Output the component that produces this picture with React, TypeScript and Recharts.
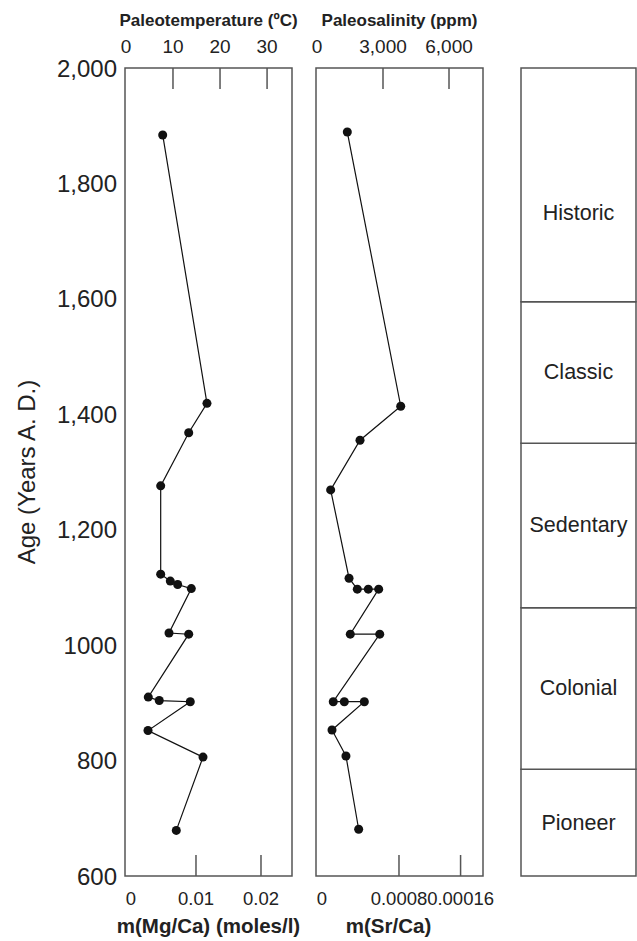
import React from 'react';
import { ScatterChart, Scatter, XAxis, YAxis, ReferenceArea } from 'recharts';

// age axis (years A.D.)
const ageTicks = [600, 800, 1000, 1200, 1400, 1600, 1800, 2000];
const ageTickLabels = ['600', '800', '1000', '1,200', '1,400', '1,600', '1,800', '2,000'];

// Mg/Ca series
const mgAge = [1884, 1419, 1368, 1276, 1123, 1111, 1105, 1098, 1021, 1019, 910, 904, 902, 852, 806, 679];
const mgCa = [0.00488, 0.01169, 0.00888, 0.00457, 0.00457, 0.00605, 0.00718, 0.00928, 0.00585, 0.00888, 0.00266, 0.00435, 0.00912, 0.00262, 0.01108, 0.00697];

// Sr/Ca series
const srAge = [1889, 1414, 1355, 1269, 1116, 1097, 1097, 1097, 1019, 1019, 902, 902, 902, 853, 808, 681];
const srCa = [0.000263, 0.000818, 0.000395, 0.00009, 0.000281, 0.000367, 0.000481, 0.000589, 0.000294, 0.0006, 0.000117, 0.000232, 0.00044, 0.000104, 0.000249, 0.000381];

// axis ticks
const tempTicks = [0, 10, 20, 30];
const tempTickLabels = ['0', '10', '20', '30'];
const salinityTicks = [0, 3000, 6000];
const salinityTickLabels = ['0', '3,000', '6,000'];
const mgTicks = [0, 0.01, 0.02];
const mgTickLabels = ['0', '0.01', '0.02'];
const srTicks = [0, 0.0008, 0.00144];
const srTickLabels = ['0', '0.0008', '0.00016'];

// cultural periods
const periodNames = ['Pioneer', 'Colonial', 'Sedentary', 'Classic', 'Historic'];
const periodStart = [600, 785, 1065, 1350, 1595];
const periodEnd = [785, 1065, 1350, 1595, 2000];

const FONT = '"Liberation Sans", Arial, Helvetica, sans-serif';
const TEXT = '#222';
const FRAME = '#555';
const H = 941;
const PLOT_TOP = 68;
const PLOT_BOTTOM = 876;
const TICK_LEN = 21;

const ageDomain: [number, number] = [600, 2000];
const tempDomain: [number, number] = [-0.2, 35.3];
const salinityDomain: [number, number] = [-45, 7545];
const mgDomain: [number, number] = [-0.00092, 0.02477];
const srDomain: [number, number] = [-0.0000623, 0.001673];

const mgData = mgAge.map((age, i) => ({ age, x: mgCa[i] }));
const srData = srAge.map((age, i) => ({ age, x: srCa[i] }));

const makeTopTick = (ticks: number[], labels: string[]) => (p: any) => {
  const v = p.payload.value;
  const label = labels[ticks.indexOf(v)];
  return (
    <g>
      <text x={p.x} y={PLOT_TOP - 15} textAnchor="middle" fontSize={19} fill={TEXT} fontFamily={FONT}>
        {label}
      </text>
      {v !== 0 && <line x1={p.x} x2={p.x} y1={PLOT_TOP} y2={PLOT_TOP + TICK_LEN} stroke={FRAME} strokeWidth={1.5} />}
    </g>
  );
};

const makeBottomTick = (ticks: number[], labels: string[]) => (p: any) => {
  const v = p.payload.value;
  const label = labels[ticks.indexOf(v)];
  return (
    <g>
      <text x={p.x} y={905} textAnchor="middle" fontSize={18.5} fill={TEXT} fontFamily={FONT}>
        {label}
      </text>
      {v !== 0 && <line x1={p.x} x2={p.x} y1={PLOT_BOTTOM} y2={PLOT_BOTTOM - TICK_LEN} stroke={FRAME} strokeWidth={1.5} />}
    </g>
  );
};

const topTitle = (text: string) => (p: any) => {
  const vb = p.viewBox;
  return (
    <text x={vb.x + vb.width / 2} y={26} textAnchor="middle" fontSize={17} fontWeight="bold" fill={TEXT} fontFamily={FONT}>
      {text}
    </text>
  );
};

const bottomTitle = (text: string, dx: number) => (p: any) => {
  const vb = p.viewBox;
  return (
    <text x={vb.x + vb.width / 2 + dx} y={933} textAnchor="middle" fontSize={20.5} fontWeight="bold" fill={TEXT} fontFamily={FONT}>
      {text}
    </text>
  );
};

const ageTitle = (p: any) => {
  const vb = p.viewBox;
  const cy = vb.y + vb.height / 2;
  return (
    <text x={26} y={cy} transform={`rotate(-90 26 ${cy})`} textAnchor="middle" dominantBaseline="central" fontSize={24} fill={TEXT} fontFamily={FONT}>
      Age (Years A. D.)
    </text>
  );
};

interface PanelProps {
  left: number;
  width: number;
  data: { age: number; x: number }[];
  topDomain: [number, number];
  topTicks: number[];
  topLabels: string[];
  topName: string;
  bottomDomain: [number, number];
  bottomTicks: number[];
  bottomLabels: string[];
  bottomName: string;
  bottomNameDx: number;
  withAgeAxis: boolean;
  margin: { left: number; right: number };
}

const Panel: React.FC<PanelProps> = (props) => (
  <ScatterChart
    width={props.width}
    height={H}
    margin={{ top: 0, right: props.margin.right, bottom: 0, left: props.margin.left }}
    style={{ position: 'absolute', left: props.left, top: 0 }}
  >
    <XAxis
      xAxisId="top"
      orientation="top"
      type="number"
      dataKey="x"
      height={PLOT_TOP}
      domain={props.topDomain}
      ticks={props.topTicks}
      allowDataOverflow
      axisLine={false}
      tickLine={false}
      tickSize={0}
      tick={makeTopTick(props.topTicks, props.topLabels)}
      label={topTitle(props.topName)}
    />
    <XAxis
      xAxisId="bottom"
      orientation="bottom"
      type="number"
      dataKey="x"
      height={H - PLOT_BOTTOM}
      domain={props.bottomDomain}
      ticks={props.bottomTicks}
      allowDataOverflow
      axisLine={false}
      tickLine={false}
      tickSize={0}
      tick={makeBottomTick(props.bottomTicks, props.bottomLabels)}
      label={bottomTitle(props.bottomName, props.bottomNameDx)}
    />
    <YAxis
      yAxisId="age"
      type="number"
      dataKey="age"
      domain={ageDomain}
      ticks={ageTicks}
      allowDataOverflow
      hide={!props.withAgeAxis}
      width={props.withAgeAxis ? 125 : 0}
      axisLine={false}
      tickLine={false}
      tickSize={0}
      tickMargin={8}
      tick={{ fontSize: 24, fill: TEXT, fontFamily: FONT }}
      tickFormatter={(v: number) => ageTickLabels[ageTicks.indexOf(v)]}
      label={props.withAgeAxis ? ageTitle : undefined}
    />
    <ReferenceArea
      xAxisId="bottom"
      yAxisId="age"
      x1={props.bottomDomain[0]}
      x2={props.bottomDomain[1]}
      y1={ageDomain[0]}
      y2={ageDomain[1]}
      fill="none"
      stroke={FRAME}
      strokeWidth={1.5}
    />
    <Scatter
      xAxisId="bottom"
      yAxisId="age"
      data={props.data}
      fill="#111"
      line={{ stroke: '#111', strokeWidth: 1.2 }}
      lineType="joint"
      isAnimationActive={false}
    />
  </ScatterChart>
);

const periodLabelShift = [0, 0, 0, 0, 28];

const PeriodColumn: React.FC = () => (
  <ScatterChart
    width={124}
    height={H}
    margin={{ top: PLOT_TOP, right: 1, bottom: H - PLOT_BOTTOM, left: 8 }}
    style={{ position: 'absolute', left: 513, top: 0 }}
  >
    <XAxis xAxisId="p" type="number" dataKey="x" domain={[0, 1]} hide allowDataOverflow />
    <YAxis yAxisId="p" type="number" dataKey="age" domain={ageDomain} hide allowDataOverflow />
    {periodNames.map((name, i) => (
      <ReferenceArea
        key={name}
        xAxisId="p"
        yAxisId="p"
        x1={0}
        x2={1}
        y1={periodStart[i]}
        y2={periodEnd[i]}
        fill="#fff"
        fillOpacity={1}
        stroke={FRAME}
        strokeWidth={1.5}
        label={(p: any) => {
          const vb = p.viewBox;
          return (
            <text
              x={vb.x + vb.width / 2}
              y={vb.y + vb.height / 2 + periodLabelShift[i]}
              textAnchor="middle"
              dominantBaseline="central"
              fontSize={21.5}
              fill={TEXT}
              fontFamily={FONT}
            >
              {name}
            </text>
          );
        }}
      />
    ))}
    <Scatter xAxisId="p" yAxisId="p" data={[]} isAnimationActive={false} />
  </ScatterChart>
);

export default function App() {
  return (
    <div style={{ position: 'absolute', left: 0, top: 0, width: 637, height: H, background: '#fff', fontFamily: FONT }}>
      <Panel
        left={0}
        width={300}
        data={mgData}
        topDomain={tempDomain}
        topTicks={tempTicks}
        topLabels={tempTickLabels}
        topName="Paleotemperature (ºC)"
        bottomDomain={mgDomain}
        bottomTicks={mgTicks}
        bottomLabels={mgTickLabels}
        bottomName="m(Mg/Ca) (moles/l)"
        bottomNameDx={0}
        withAgeAxis
        margin={{ left: 0, right: 8 }}
      />
      <Panel
        left={308}
        width={205}
        data={srData}
        topDomain={salinityDomain}
        topTicks={salinityTicks}
        topLabels={salinityTickLabels}
        topName="Paleosalinity (ppm)"
        bottomDomain={srDomain}
        bottomTicks={srTicks}
        bottomLabels={srTickLabels}
        bottomName="m(Sr/Ca)"
        bottomNameDx={-11}
        withAgeAxis={false}
        margin={{ left: 8, right: 30 }}
      />
      <PeriodColumn />
    </div>
  );
}
